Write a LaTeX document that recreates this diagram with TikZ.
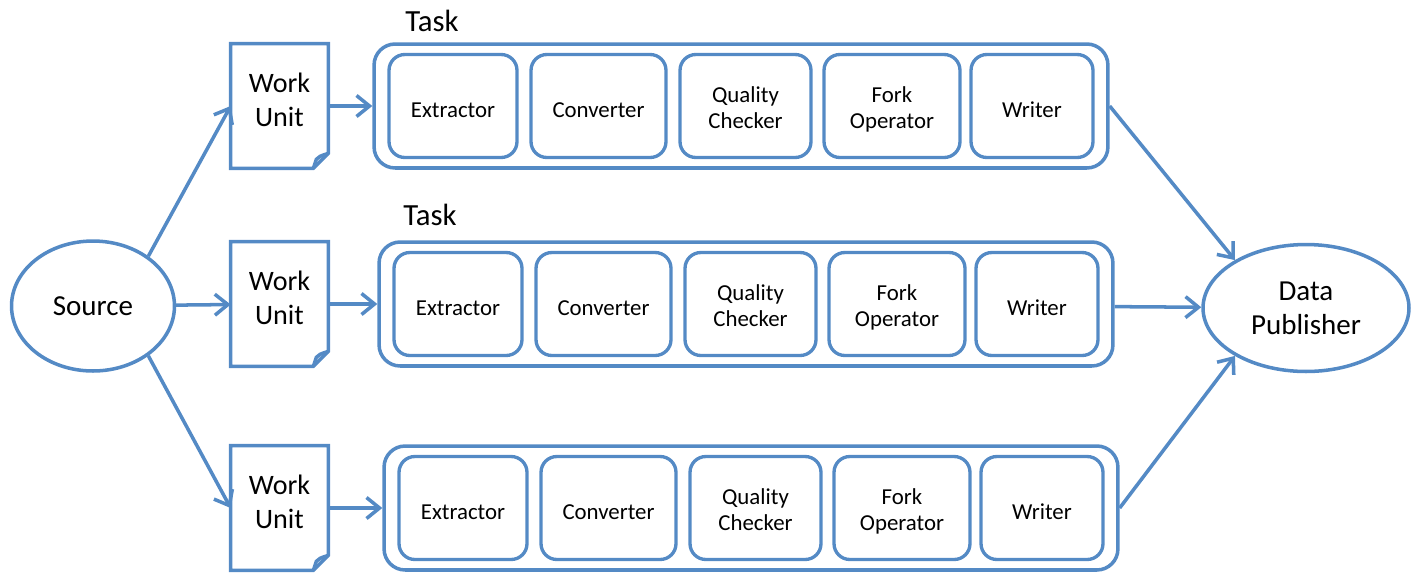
\documentclass[tikz,border=0pt]{standalone}
\usepackage{fontspec}
\setmainfont{Carlito}
\usetikzlibrary{arrows.meta,calc,shapes.geometric}
\definecolor{flowblue}{RGB}{84,138,197}
% shift a text up or down without changing its box
\newcommand{\liftby}[2]{\raisebox{#1}[\height][\depth]{\begin{tabular}{@{}c@{}}#2\end{tabular}}}

\begin{document}
\begin{tikzpicture}[
        x=0.02cm, y=-0.02cm,
        >={Straight Barb[length=2.6mm,width=4.2mm]},
        endpoint/.style={
            ellipse,
            draw=flowblue,
            line width=2pt,
            align=center,
            inner sep=0pt,
            font=\fontsize{16.5}{19.5}\selectfont
        },
        unit/.style={
            rectangle,
            minimum width=1.94cm,
            minimum height=2.48cm,
            align=center,
            font=\fontsize{16}{19.5}\selectfont
        },
        unitline/.style={
            draw=flowblue,
            line width=2pt,
            line join=miter
        },
        task/.style={
            rectangle,
            rounded corners=12pt,
            draw=flowblue,
            line width=2pt,
            minimum width=14.68cm,
            minimum height=2.48cm
        },
        stage/.style={
            rectangle,
            rounded corners=9pt,
            draw=flowblue,
            line width=1.9pt,
            align=center,
            minimum height=2.06cm,
            font=\fontsize{13}{14.8}\selectfont
        },
        tasklabel/.style={
            font=\fontsize{17.5}{20}\selectfont
        },
        arrow/.style={
            ->,
            line width=2pt,
            draw=flowblue
        }
    ]

    \useasboundingbox (0,0) rectangle (1424,576);

    \node[endpoint, minimum width=3.26cm, minimum height=2.6cm] (source) at (93,306) {Source};
    \node[endpoint, minimum width=4.12cm, minimum height=2.54cm] (pub) at (1306,308) {Data\\Publisher};

    % one row per task
    \foreach \r/\dx/\yc in {1/0/106, 2/5/304, 3/10/508} {
        \node[unit] (wu\r) at (279.5,\yc) {\liftby{1.8pt}{Work\\Unit}};
        \draw[unitline] (wu\r.north west) -- (wu\r.north east)
            -- ($(wu\r.south east)+(0,-15)$) -- ($(wu\r.south east)+(-15,0)$)
            -- (wu\r.south west) -- cycle;
        \draw[unitline] ($(wu\r.south east)+(0,-15)$)
            .. controls ($(wu\r.south east)+(-9,-12)$) .. ($(wu\r.south east)+(-12,-9)$)
            -- ($(wu\r.south east)+(-15,0)$);

        \node[task] (task\r) at (741+\dx,\yc) {};
        \node[stage, minimum width=2.56cm] (extract\r) at (453+\dx,\yc) {\liftby{-3.8pt}{Extractor}};
        \node[stage, minimum width=2.70cm] (convert\r) at (598.5+\dx,\yc) {\liftby{-3.8pt}{Converter}};
        \node[stage, minimum width=2.62cm] (quality\r) at (745.5+\dx,\yc) {\liftby{-2.6pt}{Quality\\Checker}};
        \node[stage, minimum width=2.72cm] (fork\r) at (892+\dx,\yc) {\liftby{-2.6pt}{Fork\\Operator}};
        \node[stage, minimum width=2.44cm] (writer\r) at (1032+\dx,\yc) {\liftby{-3.5pt}{Writer}};

        \draw[arrow] (wu\r) -- (task\r);
    }

    \node[tasklabel] (tasklbl1) at (432,21) {Task};
    \node[tasklabel] (tasklbl2) at (430,215) {Task};

    \draw[arrow] (source.42) -- (wu1.west);
    \draw[arrow] (source) -- (wu2);
    \draw[arrow] (source.-42) -- (wu3.west);

    \draw[arrow] (task1.east) -- (pub.146);
    \draw[arrow] (task2) -- (pub);
    \draw[arrow] (task3.east) -- (pub.-146);

\end{tikzpicture}
\end{document}
